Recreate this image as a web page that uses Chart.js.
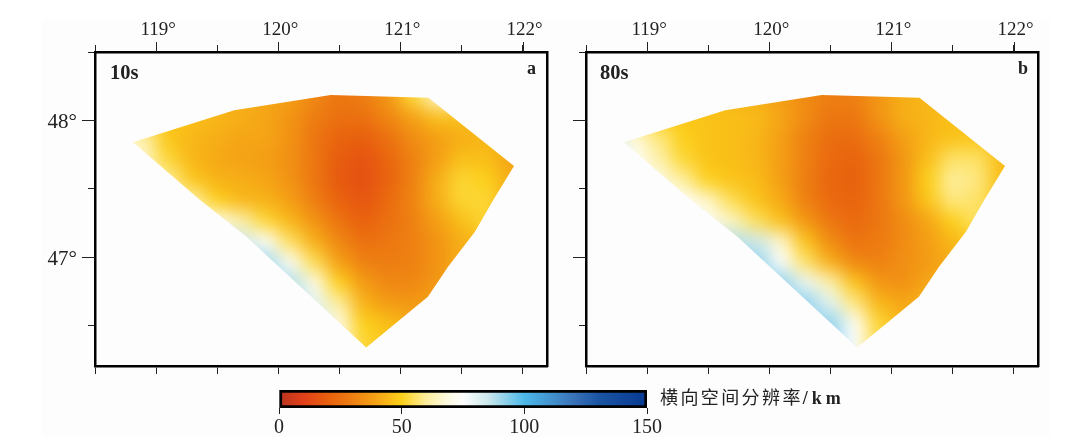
<!DOCTYPE html>
<html>
<head>
<meta charset="utf-8">
<style>
html, body { margin: 0; padding: 0; background: #fff; }
#page { position: relative; width: 1092px; height: 446px; overflow: hidden; }
#sheet { position: absolute; left: 42px; top: 20px; width: 1008px; height: 417px; background: #fdfdfd; }
canvas { position: absolute; }
.tag { position: absolute; font-family: "Liberation Serif", serif; font-weight: bold; color: #222; font-size: 20.5px; line-height: 22px; }
.tag.small { font-size: 18px; }
#unit { position: absolute; left: 660px; top: 385px; font-family: "Noto Sans CJK SC", sans-serif; font-size: 18px; line-height: 22px; letter-spacing: 2.4px; color: #222; white-space: nowrap; }
#unit span { font-family: "Liberation Serif", serif; font-weight: bold; letter-spacing: 4px; }
</style>
</head>
<body>
<div id="page">
    <div id="sheet"></div>
    <canvas id="map_a" width="525" height="375" style="left:40px;top:10px"></canvas>
    <canvas id="map_b" width="525" height="375" style="left:531px;top:10px"></canvas>
    <canvas id="bar" width="420" height="60" style="left:260px;top:380px"></canvas>
    <div class="tag" style="left:110px;top:61px">10s</div>
    <div class="tag small" style="left:527px;top:57px">a</div>
    <div class="tag" style="left:600px;top:61px">80s</div>
    <div class="tag small" style="left:1018px;top:57px">b</div>
    <div id="unit">横向空间分辨率<span>/km</span></div>
</div>
<script src="https://cdn.jsdelivr.net/npm/chart.js@4/dist/chart.umd.min.js"></script>
<script>
var lonTicks = [118.5, 119, 119.5, 120, 120.5, 121, 121.5, 122];
var latTicks = [46.5, 47, 47.5, 48, 48.5];
var barTicks = [0, 50, 100, 150];

// colour scale, km -> colour
var scaleValues = [0, 10, 20, 30, 40, 50, 60, 68, 75, 85, 100, 120, 130, 150];
var scaleColors = ['#b8341e', '#e2401a', '#e8600d', '#ee8012', '#f5a516', '#fcd01a', '#fdee9c', '#fdf9dc', '#ffffff', '#cde8ec', '#4db9e9', '#3a73b8', '#1c55a4', '#073a92'];

// edge of the resolved area
var edgeLon = [118.81, 119.64, 120.43, 121.23, 121.93, 121.76, 121.61, 121.39, 121.225, 120.72, 120.28, 119.74, 119.36];
var edgeLat = [47.84, 48.075, 48.185, 48.165, 47.666, 47.418, 47.187, 46.931, 46.712, 46.34, 46.703, 47.15, 47.418];

var gridLon = [118.5, 118.7, 118.9, 119.1, 119.3, 119.5, 119.7, 119.9, 120.1, 120.3, 120.5, 120.7, 120.9, 121.1, 121.3, 121.5, 121.7, 121.9, 122.1];
var gridLat = [48.3, 48.15, 48, 47.85, 47.7, 47.55, 47.4, 47.25, 47.1, 46.95, 46.8, 46.65, 46.5, 46.35, 46.2];

var values10s = [
    [45, 45, 45, 45, 44, 43, 42, 40, 38, 32, 28, 30, 36, 52, 66, 62, 50, 45, 45],
    [45, 45, 45, 45, 44, 43, 42, 40, 38, 32, 27, 29, 36, 52, 66, 62, 50, 45, 45],
    [60, 58, 52, 48, 46, 44, 42, 40, 35, 29, 25, 25, 31, 38, 46, 46, 44, 42, 42],
    [72, 70, 62, 48, 44, 42, 40, 40, 35, 27, 21, 20, 25, 33, 38, 42, 44, 44, 44],
    [72, 72, 66, 52, 44, 41, 39, 38, 34, 27, 19, 16, 22, 30, 38, 46, 46, 40, 36],
    [72, 72, 70, 60, 48, 43, 42, 40, 35, 27, 18, 15, 21, 30, 42, 52, 50, 42, 36],
    [72, 72, 72, 68, 62, 50, 44, 43, 38, 29, 21, 17, 23, 31, 42, 52, 52, 44, 40],
    [72, 72, 72, 72, 70, 72, 62, 52, 44, 35, 26, 20, 25, 30, 38, 46, 52, 46, 40],
    [72, 72, 72, 72, 78, 85, 85, 75, 55, 42, 32, 25, 27, 30, 35, 42, 46, 46, 40],
    [72, 72, 72, 72, 78, 85, 90, 90, 74, 54, 38, 30, 29, 30, 35, 42, 46, 46, 40],
    [72, 72, 72, 72, 78, 85, 90, 90, 88, 70, 50, 37, 32, 32, 36, 42, 46, 46, 40],
    [72, 72, 72, 72, 78, 85, 90, 90, 90, 80, 60, 43, 37, 36, 40, 44, 46, 46, 40],
    [72, 72, 72, 72, 78, 85, 90, 90, 90, 85, 70, 50, 46, 42, 42, 44, 46, 46, 40],
    [72, 72, 72, 72, 78, 85, 90, 90, 90, 85, 70, 52, 48, 44, 44, 44, 46, 46, 40],
    [72, 72, 72, 72, 78, 85, 90, 90, 90, 85, 70, 52, 48, 44, 44, 44, 46, 46, 40]
];

var values80s = [
    [48, 48, 48, 48, 46, 45, 44, 42, 38, 33, 30, 31, 36, 42, 44, 46, 46, 46, 46],
    [48, 48, 48, 48, 46, 45, 44, 42, 38, 33, 29, 30, 36, 42, 44, 46, 46, 46, 46],
    [65, 62, 55, 50, 48, 47, 46, 45, 40, 33, 27, 27, 35, 42, 44, 46, 46, 46, 46],
    [88, 82, 68, 58, 50, 47, 46, 44, 38, 30, 24, 24, 30, 38, 44, 47, 48, 46, 44],
    [88, 88, 74, 62, 52, 47, 46, 44, 38, 30, 23, 21, 27, 36, 46, 56, 56, 46, 40],
    [88, 88, 82, 70, 60, 50, 47, 45, 38, 29, 22, 20, 27, 36, 50, 60, 58, 46, 40],
    [88, 88, 88, 78, 74, 66, 54, 47, 41, 30, 23, 21, 27, 36, 48, 58, 56, 48, 42],
    [88, 88, 88, 82, 78, 72, 65, 55, 46, 36, 27, 23, 27, 33, 40, 50, 56, 50, 44],
    [88, 88, 88, 88, 88, 88, 88, 84, 66, 47, 33, 26, 28, 33, 38, 44, 50, 50, 44],
    [88, 88, 88, 88, 92, 92, 92, 92, 75, 56, 42, 32, 30, 34, 37, 42, 48, 48, 44],
    [88, 88, 88, 88, 92, 92, 92, 92, 92, 78, 62, 47, 36, 34, 40, 44, 48, 48, 44],
    [88, 88, 88, 88, 92, 92, 92, 92, 92, 92, 80, 58, 44, 40, 44, 44, 48, 48, 44],
    [88, 88, 88, 88, 92, 92, 92, 92, 92, 92, 92, 74, 52, 44, 44, 44, 48, 48, 44],
    [88, 88, 88, 88, 92, 92, 92, 92, 92, 92, 92, 76, 54, 46, 44, 44, 48, 48, 44],
    [88, 88, 88, 88, 92, 92, 92, 92, 92, 92, 92, 76, 54, 46, 44, 44, 48, 48, 44]
];

var serif = 'Liberation Serif';
var inkColor = '#222';

function hexToRgb(hex) {
    return [parseInt(hex.substr(1, 2), 16), parseInt(hex.substr(3, 2), 16), parseInt(hex.substr(5, 2), 16)];
}

function colorFor(v) {
    for (var i = 1; i < scaleValues.length; i++) {
        if (v <= scaleValues[i]) {
            var t = (v - scaleValues[i - 1]) / (scaleValues[i] - scaleValues[i - 1]);
            var a = hexToRgb(scaleColors[i - 1]), b = hexToRgb(scaleColors[i]);
            return 'rgb(' + Math.round(a[0] + (b[0] - a[0]) * t) + ',' + Math.round(a[1] + (b[1] - a[1]) * t) + ',' + Math.round(a[2] + (b[2] - a[2]) * t) + ')';
        }
    }
    return scaleColors[scaleColors.length - 1];
}

function gridPoints(values) {
    var points = [];
    for (var r = 0; r < gridLat.length; r++) {
        for (var c = 0; c < gridLon.length; c++) {
            points.push({x: gridLon[c], y: gridLat[r], v: values[r][c]});
        }
    }
    return points;
}

// smooths the drawn cells and cuts them to the edge of the area
var smoothPlugin = {
    id: 'smooth',
    afterDatasetsDraw: function(chart) {
        var a = chart.chartArea, ctx = chart.ctx, dpr = chart.currentDevicePixelRatio;
        var w = Math.round(a.width * dpr), h = Math.round(a.height * dpr);
        var off = document.createElement('canvas');
        off.width = w;
        off.height = h;
        var octx = off.getContext('2d');
        octx.filter = 'blur(' + (9 * dpr) + 'px)';
        octx.drawImage(chart.canvas, a.left * dpr, a.top * dpr, w, h, 0, 0, w, h);
        ctx.save();
        ctx.clearRect(a.left, a.top, a.width, a.height);
        ctx.beginPath();
        for (var i = 0; i < edgeLon.length; i++) {
            var px = chart.scales.x.getPixelForValue(edgeLon[i]);
            var py = chart.scales.y.getPixelForValue(edgeLat[i]);
            if (i === 0) ctx.moveTo(px, py); else ctx.lineTo(px, py);
        }
        ctx.closePath();
        ctx.clip();
        ctx.drawImage(off, a.left, a.top, a.width, a.height);
        ctx.restore();
    }
};

// whole degrees get longer ticks on top and left
var longTickPlugin = {
    id: 'longTicks',
    afterDraw: function(chart) {
        var ctx = chart.ctx, a = chart.chartArea;
        ctx.save();
        ctx.strokeStyle = inkColor;
        ctx.lineWidth = 1;
        ctx.beginPath();
        lonTicks.forEach(function(v) {
            if (v % 1 === 0) {
                var px = Math.round(chart.scales.x.getPixelForValue(v)) + 0.5;
                ctx.moveTo(px, a.top);
                ctx.lineTo(px, a.top - 10);
            }
        });
        latTicks.forEach(function(v) {
            if (v % 1 === 0) {
                var py = Math.round(chart.scales.y.getPixelForValue(v)) + 0.5;
                ctx.moveTo(a.left, py);
                ctx.lineTo(a.left - 13, py);
            }
        });
        ctx.stroke();
        ctx.restore();
    }
};

function mapAxis(position, min, max, tickValues, size, tickLength, showLabels, showTicks) {
    var across = position === 'top' || position === 'bottom';
    return {
        type: 'linear',
        position: position,
        min: min,
        max: max,
        afterBuildTicks: function(scale) {
            scale.ticks = tickValues.map(function(v) { return {value: v}; });
        },
        afterFit: function(scale) {
            if (across) scale.height = size; else scale.width = size;
            // labels must not push the frame in
            scale.paddingTop = scale.paddingBottom = scale.paddingLeft = scale.paddingRight = 0;
        },
        border: {display: true, color: '#000', width: 2.5, z: 1},
        grid: {drawOnChartArea: false, drawTicks: showTicks, tickLength: tickLength, tickColor: inkColor, tickWidth: 1, z: 1},
        ticks: {
            display: showLabels,
            z: 1,
            padding: across ? 4 : 11,
            labelOffset: 2,
            color: inkColor,
            font: {family: serif, size: across ? 19 : 21},
            maxRotation: 0,
            autoSkip: false,
            callback: function(v) { return v % 1 === 0 ? v + '°' : ''; }
        }
    };
}

function renderMap(id, values, showLatLabels) {
    return new Chart(document.getElementById(id).getContext('2d'), {
        type: 'scatter',
        data: {
            datasets: [{
                data: gridPoints(values),
                pointStyle: 'rect',
                pointRadius: 18,
                pointHoverRadius: 18,
                borderWidth: 0,
                backgroundColor: function(c) { return c.raw ? colorFor(c.raw.v) : '#fff'; }
            }]
        },
        options: {
            responsive: false,
            animation: false,
            events: [],
            layout: {padding: 0},
            plugins: {legend: {display: false}, tooltip: {enabled: false}},
            scales: {
                x: mapAxis('top', 118.5, 122.2, lonTicks, 42, 7, true, true),
                y: mapAxis('left', 46.205, 48.5, latTicks, 55, 7, showLatLabels, true),
                xBottom: mapAxis('bottom', 118.5, 122.2, lonTicks, 19, 8, false, true),
                yRight: mapAxis('right', 46.205, 48.5, latTicks, 16, 0, false, false)
            }
        },
        plugins: [smoothPlugin, longTickPlugin]
    });
}

function renderBar(id) {
    return new Chart(document.getElementById(id).getContext('2d'), {
        type: 'bar',
        data: {
            labels: [''],
            datasets: [{
                data: [[barTicks[0], barTicks[barTicks.length - 1]]],
                barPercentage: 1,
                categoryPercentage: 1,
                borderColor: '#000',
                borderWidth: 3,
                borderSkipped: false,
                backgroundColor: function(c) {
                    var area = c.chart.chartArea;
                    if (!area) return '#fff';
                    var sc = c.chart.scales.x;
                    var g = c.chart.ctx.createLinearGradient(sc.left, 0, sc.right, 0);
                    scaleValues.forEach(function(v, i) { g.addColorStop(v / 150, scaleColors[i]); });
                    return g;
                }
            }]
        },
        options: {
            indexAxis: 'y',
            responsive: false,
            animation: false,
            events: [],
            layout: {padding: {left: 19, right: 33, top: 10}},
            plugins: {legend: {display: false}, tooltip: {enabled: false}},
            scales: {
                x: {
                    type: 'linear',
                    min: 0,
                    max: 150,
                    afterBuildTicks: function(scale) {
                        scale.ticks = barTicks.map(function(v) { return {value: v}; });
                    },
                    afterFit: function(scale) { scale.height = 32; },
                    border: {display: false},
                    grid: {drawOnChartArea: false, tickLength: 6, tickColor: inkColor, tickWidth: 1},
                    ticks: {padding: 2, color: inkColor, font: {family: serif, size: 20}, maxRotation: 0, autoSkip: false}
                },
                y: {display: false}
            }
        }
    });
}

renderMap('map_a', values10s, true);
renderMap('map_b', values80s, false);
renderBar('bar');
</script>
</body>
</html>
